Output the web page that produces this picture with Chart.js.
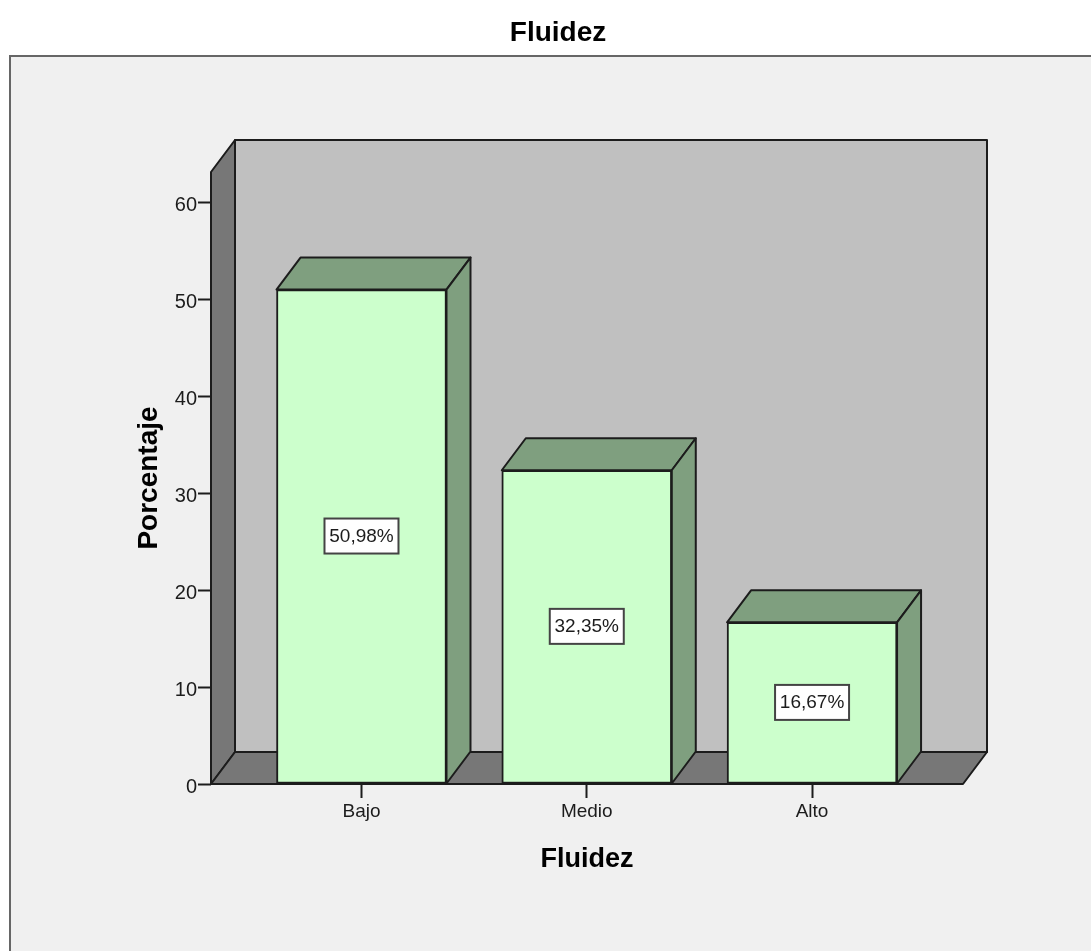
<!DOCTYPE html>
<html>
<head>
<meta charset="utf-8">
<title>Fluidez</title>
<script src="https://cdn.jsdelivr.net/npm/chart.js@4/dist/chart.umd.min.js"></script>
<style>
  html, body { margin: 0; padding: 0; background: #fff; }
  canvas { display: block; }
</style>
</head>
<body>
<canvas id="chart" width="1091" height="951"></canvas>
<script>
const categories = ['Bajo', 'Medio', 'Alto'];
const percentages = [50.98, 32.35, 16.67];
const yTicks = [0, 10, 20, 30, 40, 50, 60];

const FONT = '"Liberation Sans", Arial, sans-serif';
const INK = '#1c1c1c';
const DEPTH_X = 24;
const DEPTH_Y = -32;

function poly(ctx, pts, fill) {
  ctx.beginPath();
  pts.forEach((p, i) => i ? ctx.lineTo(p[0], p[1]) : ctx.moveTo(p[0], p[1]));
  ctx.closePath();
  ctx.fillStyle = fill;
  ctx.fill();
  ctx.stroke();
}

// Outer panel behind everything; the title centres on the panel, not the plot
const panelPlugin = {
  id: 'panel',
  afterLayout(chart) {
    chart.titleBlock.left = 0;
    chart.titleBlock.right = 1116;
  },
  beforeDraw(chart) {
    const c = chart.ctx;
    c.save();
    c.fillStyle = '#f0f0f0';
    c.strokeStyle = '#666';
    c.lineWidth = 2;
    c.fillRect(10, 56, chart.width, chart.height);
    c.strokeRect(10, 56, chart.width, chart.height);
    c.restore();
  }
};

// 3D box: walls, floor and the depth faces of each bar
const boxPlugin = {
  id: 'box3d',
  beforeDatasetsDraw(chart) {
    const c = chart.ctx;
    const { left, right, top, bottom } = chart.chartArea;
    const dx = DEPTH_X, dy = DEPTH_Y;
    c.save();
    c.strokeStyle = INK;
    c.lineWidth = 2;
    c.lineJoin = 'round';
    poly(c, [[left + dx, top + dy], [right + dx, top + dy], [right + dx, bottom + dy], [left + dx, bottom + dy]], '#c0c0c0');
    poly(c, [[left, bottom], [left, top], [left + dx, top + dy], [left + dx, bottom + dy]], '#777777');
    poly(c, [[left, bottom], [right, bottom], [right + dx, bottom + dy], [left + dx, bottom + dy]], '#777777');
    chart.getDatasetMeta(0).data.forEach(bar => {
      const l = bar.x - bar.width / 2, r = bar.x + bar.width / 2;
      poly(c, [[l, bar.y], [l + dx, bar.y + dy], [r + dx, bar.y + dy], [r, bar.y]], '#7f9f7f');
      poly(c, [[r, bar.y], [r + dx, bar.y + dy], [r + dx, bar.base + dy], [r, bar.base]], '#7f9f7f');
    });
    c.restore();
  }
};

// Boxed percentage label in the middle of each bar
const labelPlugin = {
  id: 'boxLabels',
  afterDatasetsDraw(chart) {
    const c = chart.ctx;
    c.save();
    c.font = '19px ' + FONT;
    c.textAlign = 'center';
    c.textBaseline = 'middle';
    chart.getDatasetMeta(0).data.forEach((bar, i) => {
      const cy = (bar.y + bar.base) / 2;
      c.fillStyle = '#fff';
      c.strokeStyle = '#444';
      c.lineWidth = 2;
      c.fillRect(bar.x - 37, cy - 18, 74, 35);
      c.strokeRect(bar.x - 37, cy - 18, 74, 35);
      c.fillStyle = INK;
      c.fillText(percentages[i].toFixed(2).replace('.', ',') + '%', bar.x, cy);
    });
    c.restore();
  }
};

new Chart(document.getElementById('chart'), {
  type: 'bar',
  data: {
    datasets: [{
      data: percentages.map((y, x) => ({ x, y })),
      backgroundColor: '#ccffcc',
      borderColor: INK,
      borderWidth: 2,
      borderSkipped: false,
      barThickness: 170
    }]
  },
  options: {
    responsive: false,
    animation: false,
    layout: { padding: { left: 0, right: 128, top: 0, bottom: 0 } },
    plugins: {
      legend: { display: false },
      tooltip: { enabled: false },
      title: {
        display: true,
        text: 'Fluidez',
        color: '#000',
        font: { family: FONT, size: 28, weight: 'bold', lineHeight: 1.2 },
        padding: { top: 16, bottom: 122.4 }
      }
    },
    scales: {
      x: {
        type: 'linear',
        offset: false,
        min: -0.668,
        max: 2.67,
        afterBuildTicks: s => { s.ticks = categories.map((_, i) => ({ value: i })); },
        afterFit: s => { s.height = 167; },
        grid: { offset: false, drawOnChartArea: false, color: INK, tickColor: INK, tickLength: 14, tickWidth: 2 },
        border: { display: false },
        ticks: {
          callback: v => categories[v],
          color: INK,
          font: { family: FONT, size: 19 },
          padding: 2,
          maxRotation: 0,
          autoSkip: false
        },
        title: {
          display: true,
          text: 'Fluidez',
          color: '#000',
          font: { family: FONT, size: 27, weight: 'bold', lineHeight: 1.2 },
          padding: { top: 0, bottom: 75 }
        }
      },
      y: {
        min: 0,
        max: 63.1,
        afterBuildTicks: s => { s.ticks = yTicks.map(value => ({ value })); },
        afterFit: s => { s.width = 211; },
        grid: { drawOnChartArea: false, color: INK, tickColor: INK, tickLength: 13, tickWidth: 2 },
        border: { display: false },
        ticks: {
          color: INK,
          font: { family: FONT, size: 20 },
          padding: 1,
          labelOffset: 3,
          includeBounds: false
        },
        title: {
          display: true,
          text: 'Porcentaje',
          color: '#000',
          font: { family: FONT, size: 28, weight: 'bold', lineHeight: 1.2 },
          padding: { top: 132, bottom: 0 }
        }
      }
    }
  },
  plugins: [panelPlugin, boxPlugin, labelPlugin]
});
</script>
</body>
</html>
